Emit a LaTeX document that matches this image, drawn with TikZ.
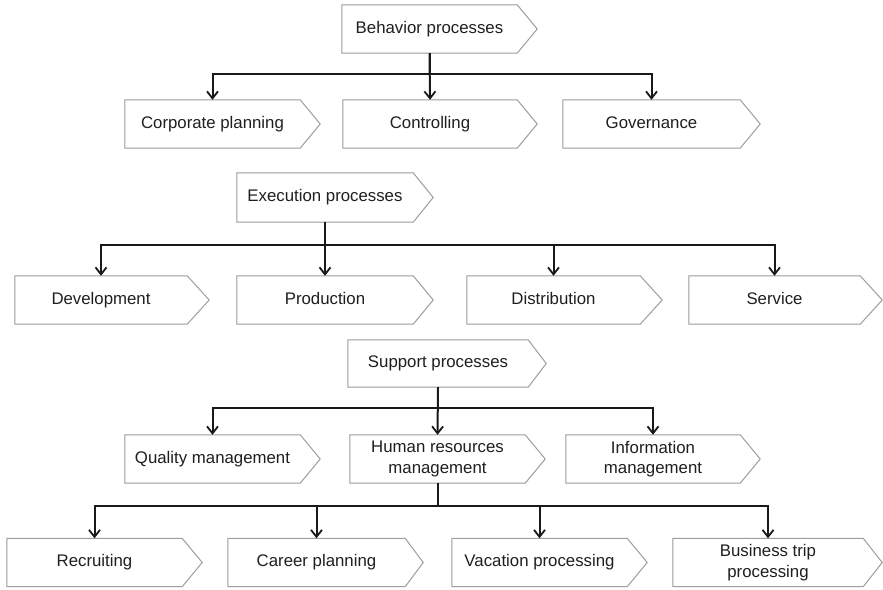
\documentclass[tikz,border=0pt]{standalone}
\usepackage{fontspec}
\setmainfont{Liberation Sans}
\usetikzlibrary{arrows.meta,calc,backgrounds}
\definecolor{boxline}{gray}{0.62}
\definecolor{shadowc}{gray}{0.78}
\definecolor{txt}{gray}{0.12}
\tikzset{
  procbase/.style={minimum height=48pt, inner sep=0pt, align=center, text=txt,
    font=\fontsize{16.8}{20.5}\selectfont},
  proc/.style={procbase, text height=12pt, text depth=3.5pt},
  proctwo/.style={procbase},
  conn/.style={line width=2pt, draw=black!90,
    -{Straight Barb[length=7pt,width=11pt,line width=1.8pt]}}
}
\newcommand{\procoutline}[2][20]{%
  \begin{pgfonlayer}{background}
    \fill[shadowc, shift={(1.8pt,-1.8pt)}] (#2.north west) -- (#2.north east) -- ($(#2.east)+(#1pt,0pt)$) -- (#2.south east) -- (#2.south west) -- cycle;
    \draw[boxline, line width=1pt, fill=white] (#2.north west) -- (#2.north east) -- ($(#2.east)+(#1pt,0pt)$) -- (#2.south east) -- (#2.south west) -- cycle;
  \end{pgfonlayer}}
\begin{document}
\begin{tikzpicture}[x=1pt,y=-1pt]
\begin{pgfonlayer}{background}
\fill[white] (0,0) rectangle (883,589);
\end{pgfonlayer}
\useasboundingbox (0,0) rectangle (883,589);
% level 1
\node[proc, minimum width=175pt] (beh) at (429.5,29) {Behavior processes};
\node[proc, minimum width=175pt] (cp) at (212.5,124) {Corporate planning};
\node[proc, minimum width=174pt] (ctl) at (430,124) {Controlling};
\node[proc, minimum width=177pt] (gov) at (651.5,124) {Governance};
\procoutline{beh}\procoutline{cp}\procoutline{ctl}\procoutline{gov}
\draw[conn] (beh.south) -- ++(0,21) -| (cp.north);
\draw[conn] (beh.south) -- (ctl.north);
\draw[conn] (beh.south) -- ++(0,21) -| (gov.north);
% execution
\node[proc, minimum width=176pt, minimum height=49pt] (exe) at (325,197.5) {Execution processes};
\node[proc, minimum width=172pt] (dev) at (101,300) {Development};
\node[proc, minimum width=176pt] (prod) at (325,300) {Production};
\node[proc, minimum width=173pt] (dist) at (553.5,300) {Distribution};
\node[proc, minimum width=171pt] (serv) at (774.5,300) {Service};
\procoutline{exe}\procoutline[22]{dev}\procoutline{prod}\procoutline[22]{dist}\procoutline[22]{serv}
\draw[conn] (exe.south) -- ++(0,23) -| (dev.north);
\draw[conn] (exe.south) -- (prod.north);
\draw[conn] (exe.south) -- ++(0,23) -| (dist.north);
\draw[conn] (exe.south) -- ++(0,23) -| (serv.north);
% support
\node[proc, minimum width=180pt, minimum height=47pt] (sup) at (438,363.5) {Support processes};
\node[proc, minimum width=175pt] (qm) at (212.5,459) {Quality management};
\node[proctwo, minimum width=175pt] (hr) at (437.5,459) {Human resources\\management};
\node[proctwo, minimum width=174pt] (im) at (653,459) {Information\\management};
\procoutline[18]{sup}\procoutline{qm}\procoutline{hr}\procoutline{im}
\draw[conn] (sup.south) -- ++(0,21) -| (qm.north);
\draw[conn] (sup.south) -- (hr.north);
\draw[conn] (sup.south) -- ++(0,21) -| (im.north);
% HR children
\node[proc, minimum width=175pt] (rec) at (94.5,562.5) {Recruiting};
\node[proc, minimum width=177pt] (car) at (316.5,562.5) {Career planning};
\node[proc, minimum width=175pt] (vac) at (539.5,562.5) {Vacation processing};
\node[proctwo, minimum width=190pt] (bus) at (768,562.5) {Business trip\\processing};
\procoutline{rec}\procoutline[18]{car}\procoutline{vac}\procoutline[19]{bus}
\draw[conn] (hr.south) -- ++(0,23) -| (rec.north);
\draw[conn] (hr.south) -- ++(0,23) -| (car.north);
\draw[conn] (hr.south) -- ++(0,23) -| (vac.north);
\draw[conn] (hr.south) -- ++(0,23) -| (bus.north);
\end{tikzpicture}
\end{document}
